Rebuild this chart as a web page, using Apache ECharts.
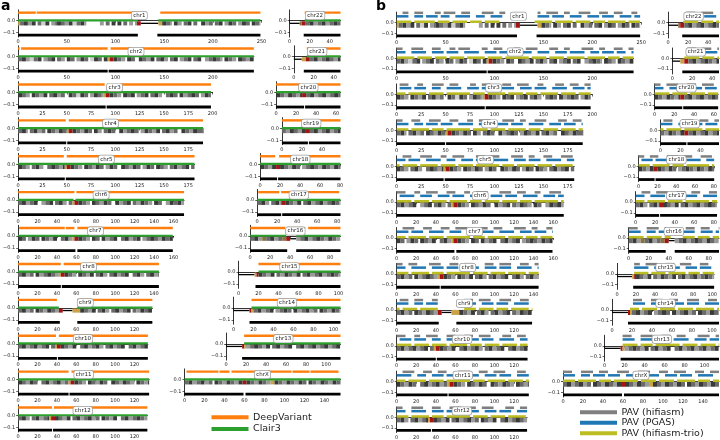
<!DOCTYPE html>
<html>
<head>
<meta charset="utf-8">
<script src="https://cdn.jsdelivr.net/npm/echarts@6/dist/echarts.min.js"></script>
<style>
  html, body { margin: 0; padding: 0; background: #fff; }
  #chart { width: 720px; height: 440px; }
</style>
</head>
<body>
<div id="chart"></div>
<script>
// chromosome names, lengths (Mb), axis end and tick step
const chromNames = ['chr1','chr2','chr3','chr4','chr5','chr6','chr7','chr8','chr9','chr10','chr11','chr12',
  'chr13','chr14','chr15','chr16','chr17','chr18','chr19','chr20','chr21','chr22','chrX'];
const chromLength = [248.9,242.2,198.3,190.2,181.5,170.8,159.3,145.1,138.4,133.8,135.1,133.3,
  114.4,107.0,102.0,90.3,83.3,80.4,58.6,64.4,46.7,50.8,156.0];
const axisEnd = [250,242.2,200,190.2,181.5,170.8,160,145.1,138.4,133.8,135.1,133.3,
  114.4,107.0,102.0,90.3,83.3,80.4,58.6,64.4,46.7,50.8,156.0];
const tickStep = [50,50,25,25,25,20,20,20,20,20,20,20,20,20,20,20,20,20,20,20,20,20,20];
const yTicks = [0, -0.1];

const leftColumn = ['chr1','chr2','chr3','chr4','chr5','chr6','chr7','chr8','chr9','chr10','chr11','chr12'];
const rightColumn = ['chr22','chr21','chr20','chr19','chr18','chr17','chr16','chr15','chr14','chr13','chrX'];

// ideogram, one char per 2 Mb: . white, a-d greys, r centromere, y/o heterochromatin, - unassembled
const BAND_BIN = 2;
const ideogram = [
  'yccddbbdd. ccaadd.bbc ddccbbddaa ccddb..... ..bb.cc.dd .dd.cc.bb. brr------- --yyddccb. ddbb.ccdd. cc..ddbbcc .ccdd.bbdd cc.bbddcc. ddccb',
  'ccddbbaacc dd.bbccdd. ccbb.ddcc. bbddcc.aad dcc.ddyrrd dccbb.ddcc ..ddccbbdd .ccddbb.cc dd.bbccdd. ccdd..bbcc ddccb.ddcc bb.ddccbbd d',
  'ddccbb.ddc cbbdd.ccdd bbcc..ddcc aaddcc.bbd dccbyrrddc cbb.ddccdd .bbccdd.cc ddbb..ccdd cc.ddbbccd dcc.bbddcc',
  'ccddb.ccdd bbcc.ddccb bddccyrrdd ccbbddcc.d dbb.ccddcc ..ddbbccdd cc.bbddccb bdd.ccddbb cc..ddccbb ddcccd',
  'ddccbb.ccd dbb..ccddc cbbdyrrddc cbb.ddccbb ddcc.bbddc c..ddccbbd dcc.bbddcc .ddccbb.cc ddbbccdd.c c',
  'ccddbbccdd ..bbccdd.c cddbb.ccyr rddccbb.dd ccbbddcc.. ddbbccdd.c cbbddccbb. ddcc..bbdd ccddbb',
  'ddcc.bbddc c.ddccbbdd ..ccddbbyr rddccbb.dd cc.ddbbccd d..ccddbbc cdd.bbccdd ccbbddccdd',
  'ccddbbcc.d dbbccddccb byrrddccbb .ddccbbdd. ccddbb.ccd dbbccdd..c cddbb.ccdd bbc',
  'ccddbbcc.d dccbbddccb brr-----yy yyddccbbdd .ccddbb.cc ddbbccdd.c cbbddccdd.',
  'ccddbbccdd bbccdd.ccy rrddccbbdd ..ccddbbcc ddbb.ccddb bccdd..ccd dbbccdd',
  'ddccbbddcc ..ccddbbcc ddbbccyrrd dccbb.ddcc bbddcc..dd ccbbddccbb .ddccbbd',
  'ccddbb.ccd dbbccdyrrd dccbbdd.cc ddbbccddbb cc.ddccbbd d..ccddbbc cddccbb',
  '--------ry bbccddccbb dd.ccddbbc cdd..ccddb bccddbbccd dbbccdd.',
  '--------ry ccddbbccdd .bbccddcc. ddbbccddbb cc.ddccbbd dccb',
  '--------yr ddccbbdd.c cbbddccbbd d.ccddbbcc ddbbccddcc b',
  'ccddbboocc ddbbccoorr ---bbccddb bccddccbbd dccbb',
  'ccddbb.ccd dbrrddccbb dd.ccddbbc cddbbccddc cb',
  'ddccbbddrr ddccbbddcc .bbccddccb bddccbbddc c',
  'ccbbddccbb ddrrccddbb ccddbbccdd',
  'ddccbbddcc bbdrrccddb bccddbbccd dcc',
  '----yyrrcc ddbbccddcc bbdd',
  '-----orrcc ddbbccddbb ccddcc',
  'ccddbbccdd bbcc.ddccb bddccbbddr rddccbbddc cbbyyddccb bddccbbddc c.ddccbbdd ccbbddcc'
];

// reference contigs (bottom black bar), Mb
const assemblyBar = [
  [[0,123],[143,248.9]], [[0,92],[93,242.2]], [[0,90],[91,198.3]], [[0,49.5],[50.5,190.2]],
  [[0,48],[49,181.5]], [[0,170.8]], [[0,59],[61,159.3]], [[0,44],[45,145.1]],
  [[0,43],[61,138.4]], [[0,40],[41,133.8]], [[0,52],[53,135.1]], [[0,35],[36,133.3]],
  [[16,114.4]], [[16,107]], [[17,102]], [[0,37],[46,90.3]], [[0,24],[25,83.3]], [[0,17],[18,80.4]],
  [[0,26],[27,58.6]], [[0,28],[29,64.4]], [[10,46.7]], [[14,50.8]], [[0,59],[61,156]]
];

// panel a: callable regions, Mb
const deepVariant = [
  [[0,18],[19,124],[146,248.9]], [[0,1.5],[3,92],[95,242.2]], [[0,89],[92,198.3]], [[0,49],[52,190.2]],
  [[0,47],[50,181.5]], [[0,58],[60,170.8]], [[1,48],[49,58],[61,159.3]], [[0,44],[47,145.1]],
  [[0,40],[61,138.4]], [[0,39],[42,133.8]], [[0,52],[55,135.1]], [[0,35],[37,133.3]],
  [[18,114.4]], [[18,107]], [[20,102]], [[0,35],[37,55],[58,90.3]], [[1,22],[24,82]], [[0,15],[19,80.4]],
  [[0,24],[28,58.6]], [[0,28],[30,64.4]], [[13,46.7]], [[15,50.8]],
  [[2,34],[35,45],[47,107],[108,125],[126,154]]
];
const clair3 = [
  [[0,123],[144,248.9]], [[0,242.2]], [[0,198.3]], [[0,190.2]], [[0,181.5]], [[0,57],[59,170.8]],
  [[0,159.3]], [[0,145.1]], [[0,42],[61,138.4]], [[0,133.8]], [[0,135.1]], [[0,133.3]],
  [[18,114.4]], [[18,107]], [[20,102]], [[0,36],[46,90.3]], [[0,83.3]], [[0,80.4]],
  [[0,58.6]], [[0,64.4]], [[13,46.7]], [[15,50.8]], [[0,156]]
];

// panel b: PAV call sets, one char per 3 Mb (1 = covered)
const PAV_BIN = 3;
const pavHifiasm = [
  '0011001110 0001101111 0011100001 1110011000 0000000010 0111100110 0011110001 1100111000 110',
  '1100011110 0011100011 0111100001 1001110000 1100111100 0011100110 0001111001 1000111001 1',
  '0111000110 0011110011 1000011001 1100001110 0111100011 0000111001 1100111',
  '1100011100 0111100011 1000110011 1100001111 0011000111 1000011100 1110',
  '0011100011 1100011001 1110000111 0011100001 1110011000 1110001111 0',
  '1110001100 1111000111 0001100111 1000011110 0111000110 0011110',
  '0011110001 1100011100 1111000011 1001110000 1111001100 0111',
  '1100111000 0111100011 1001110000 1110011110 001110011',
  '0111001110 0011000000 0001110011 1100011110 0011100',
  '1110001100 1111000111 0001110011 1100001110 01110',
  '0011110001 1100111000 0111100011 1001111000 011100',
  '1100011110 0011100011 1100011001 1110000111 00111',
  '0000001110 0011110001 1100111000 011110011',
  '0000000111 0001111001 1100011110 001110',
  '0000001100 1111000111 0011110001 1100',
  '1110001111 0011000001 1100111000 1',
  '0011100111 1000111001 11000111',
  '1100111000 1111001110 0011110',
  '0111000111 1001110011',
  '1100111100 0111001111 00',
  '0000011100 111001',
  '0000001110 0111100',
  '1110001111 0011100011 1100011110 0011100111 1000111001 11'
];
const pavPgas = [
  '1111001110 1111011100 1111100111 0011110000 0000000011 1101111001 1110011110 1111001111 011',
  '1110011111 0011110111 1001111100 1111011110 0111110011 1100111101 1111001110 1111011100 1',
  '0111101111 0011100111 1100111101 1110011111 0011110111 1001111100 1111011',
  '1111001110 1111011110 0111110011 1100111101 1110011111 0011110111 1001',
  '1110111100 1111100111 0011110111 1001111100 1111011110 0111110011 1',
  '0111110011 1100111101 1110011111 0011110111 1001111100 1111011',
  '1111011110 0111110011 1100111101 1110011111 0011110111 1001',
  '1110011111 0011110111 1001111100 1111011110 011111001',
  '1111001110 1111000000 0001111001 1110111100 1111100',
  '0111101111 0011100111 1100111101 1110011111 00111',
  '1111100111 0011110111 1001111100 1111011110 011111',
  '1110011111 0011110111 1001111100 1111011110 01111',
  '0000001111 0011110111 1001111100 111101111',
  '0000000111 1001111100 1111011110 011111',
  '0000001111 1001111011 1100111101 1110',
  '1111001110 1111000011 1100111101 1',
  '1110011111 0011110111 10011111',
  '0111101111 0011100111 1100111',
  '1111001110 1111011110',
  '1110011111 0011110111 10',
  '0000011110 011110',
  '0000001111 0011110',
  '1111001110 1111011110 0111110011 1100111101 1110011111 00'
];
const pavTrio = [
  '1111101111 1110111101 1111011110 1111100000 0000000111 1110111111 0111110111 1011111101 111',
  '1111110111 1101111011 1110111111 0111110111 1111101111 1011111011 1111011111 1011110111 1',
  '1110111111 0111110111 1111101111 0111111011 1110111101 1111101111 1011111',
  '1111011111 1011110111 1111101111 1011111011 1111011110 1111101111 1011',
  '1011111011 1111011111 0111110111 1111101111 0111111011 1110111111 0',
  '1111101111 1011111011 1111011110 1111101111 1011110111 1111101',
  '1110111111 0111110111 1111101111 0111111011 1110111101 1111',
  '1111011111 1011110111 1111101111 1011111011 111101111',
  '1011111011 1111000000 0001111011 1110111101 1111101',
  '1111101111 1011111011 1111011110 1111101111 10111',
  '1110111111 0111110111 1111101111 0111111011 111011',
  '1111011111 1011110111 1111101111 1011111011 11110',
  '0000001111 1011110111 1111101111 101111101',
  '0000001110 1111101111 1011111011 111101',
  '0000001111 1011111011 1111011110 1111',
  '1111101111 1011000011 1101111011 1',
  '1110111111 0111110111 11111011',
  '1111011111 1011110111 1111101',
  '1011111011 1111011111',
  '1111101111 1011111011 11',
  '0000111110 111101',
  '0000011111 0111101',
  '1111011111 1011110111 1111101111 1011111011 1111011110 11'
];

// ---------- drawing ----------
const palette = ['#cfcfcf','#9b9b9b','#6a6a6a','#3a3a3a','#a31515','#c9a24a','#8b7340','#000000',
  '#ff7f0e','#2ca02c','#7f7f7f','#1f77b4','#bcbd22'];
const bandColor = { a: 0, b: 1, c: 2, d: 3, r: 4, y: 5, o: 6 };
const FONT = 'DejaVu Sans';

const panels = [
  { leftX: 17, rightX: 340.5, leftScale: 0.978, rightScale: 1.0, zeroY: 20.7, pitch: 35.9, px: 120,
    yMax: 0.09, yMin: -0.136, band: { y: -0.022, h: 4.2 }, bar: { y: -0.121, h: 2.8 }, labelY: 0.043,
    tracks: [ { src: deepVariant, y: 0.067, h: 2.4, c: 8 }, { src: clair3, y: 0.003, h: 2.2, c: 9 } ] },
  { leftX: 396.7, rightX: 719, leftScale: 0.978, rightScale: 1.0, zeroY: 22.7, pitch: 35.9, px: 106,
    yMax: 0.1, yMin: -0.145, band: { y: -0.024, h: 5 }, bar: { y: -0.125, h: 2.8 }, labelY: 0.062,
    pav: [ { src: pavHifiasm, y: 0.093, h: 2.5, c: 10 }, { src: pavPgas, y: 0.06, h: 2.5, c: 11 },
           { src: pavTrio, y: 0.009, h: 2.5, c: 12 } ] }
];

const clean = s => s.replace(/\s+/g, '');

function runs(str, bin, len, keep) {
  const s = clean(str), out = [];
  let i = 0;
  while (i < s.length) {
    let j = i;
    while (j < s.length && s[j] === s[i]) j++;
    const x0 = i * bin, x1 = Math.min(j * bin, len);
    if (x0 < len && keep(s[i])) out.push([x0, x1, s[i]]);
    i = j;
  }
  return out;
}

const grids = [], xAxes = [], yAxes = [], series = [];

panels.forEach(p => {
  chromNames.forEach((name, ci) => {
    const gi = grids.length;
    const len = chromLength[ci], ax = axisEnd[ci];
    let row = leftColumn.indexOf(name), left, width;
    if (row >= 0) { width = ax * p.leftScale; left = p.leftX; }
    else { row = rightColumn.indexOf(name); width = ax * p.rightScale; left = p.rightX - width; }
    const zero = p.zeroY + row * p.pitch;
    grids.push({ left: left, top: zero - p.yMax * p.px, width: width, height: (p.yMax - p.yMin) * p.px });

    const ticks = [];
    for (let t = 0; t <= ax + 1e-6; t += tickStep[ci]) ticks.push(t);
    xAxes.push({
      type: 'value', gridIndex: gi, min: 0, max: ax,
      axisLine: { lineStyle: { color: '#000', width: 0.8 } },
      axisTick: { customValues: ticks, length: 2, lineStyle: { color: '#000', width: 0.6 } },
      axisLabel: { customValues: ticks, fontSize: 5, margin: 2.5, color: '#222', fontFamily: FONT },
      splitLine: { show: false }
    });
    yAxes.push({
      type: 'value', gridIndex: gi, min: p.yMin, max: p.yMax,
      axisLine: { show: true, lineStyle: { color: '#000', width: 0.8 } },
      axisTick: { customValues: yTicks, length: 2, lineStyle: { color: '#000', width: 0.6 } },
      axisLabel: { customValues: yTicks, fontSize: 5, margin: 3, color: '#222', fontFamily: FONT,
        formatter: v => (Math.abs(v) < 1e-9 ? '0.0' : '\u22120.1') },
      splitLine: { show: false }
    });

    const items = [];
    runs(ideogram[ci], BAND_BIN, len, ch => ch !== '.').forEach(r => {
      if (r[2] === '-') items.push([r[0], r[1], p.band.y, 1.3, 7]);
      else items.push([r[0], r[1], p.band.y, p.band.h, bandColor[r[2]]]);
    });
    assemblyBar[ci].forEach(s => items.push([s[0], s[1], p.bar.y, p.bar.h, 7]));
    (p.tracks || []).forEach(t => t.src[ci].forEach(s => items.push([s[0], s[1], t.y, t.h, t.c])));
    (p.pav || []).forEach(t => runs(t.src[ci], PAV_BIN, len, ch => ch === '1')
      .forEach(r => items.push([r[0], r[1], t.y, t.h, t.c])));

    series.push({
      type: 'custom', xAxisIndex: gi, yAxisIndex: gi, silent: true, z: 2,
      encode: { x: [0, 1], y: 2 },
      data: items,
      renderItem: function (params, api) {
        const yc = api.value(2), h = api.value(3);
        const p0 = api.coord([api.value(0), yc]), p1 = api.coord([api.value(1), yc]);
        return { type: 'rect', shape: { x: p0[0], y: p0[1] - h / 2, width: Math.max(p1[0] - p0[0], 0.7), height: h },
          style: { fill: palette[api.value(4)] } };
      }
    });
    series.push({
      type: 'custom', xAxisIndex: gi, yAxisIndex: gi, silent: true, z: 5,
      data: [[len / 2, p.labelY]],
      renderItem: function (params, api) {
        const c = api.coord([api.value(0), api.value(1)]);
        return { type: 'text', x: c[0], y: c[1], style: { text: name, fontSize: 5.5, fontFamily: FONT, fill: '#222',
          align: 'center', verticalAlign: 'middle', backgroundColor: '#fff', borderColor: '#9a9a9a',
          borderWidth: 0.7, borderRadius: 2, padding: [1, 1.5, 0.5, 1.5] } };
      }
    });
  });
});

function legendEntry(x, y, color, text) {
  return [
    { type: 'line', shape: { x1: x, y1: y, x2: x + 37, y2: y }, style: { stroke: color, lineWidth: 4 } },
    { type: 'text', x: x + 41.5, y: y, style: { text: text, fontSize: 9.5, fontFamily: FONT, fill: '#222', verticalAlign: 'middle' } }
  ];
}

const option = {
  animation: false,
  backgroundColor: '#fff',
  grid: grids, xAxis: xAxes, yAxis: yAxes, series: series,
  graphic: [
    { type: 'text', left: 1, top: -1, style: { text: 'a', fontSize: 14, fontWeight: 'bold', fontFamily: FONT, fill: '#000' } },
    { type: 'text', left: 376, top: -1, style: { text: 'b', fontSize: 14, fontWeight: 'bold', fontFamily: FONT, fill: '#000' } },
    ...legendEntry(211.5, 417.3, '#ff7f0e', 'DeepVariant'),
    ...legendEntry(211.5, 429, '#2ca02c', 'Clair3'),
    ...legendEntry(580, 412.3, '#7f7f7f', 'PAV (hifiasm)'),
    ...legendEntry(580, 422.8, '#1f77b4', 'PAV (PGAS)'),
    ...legendEntry(580, 433.3, '#bcbd22', 'PAV (hifiasm-trio)')
  ]
};

const chart = echarts.init(document.getElementById('chart'));
chart.setOption(option);
</script>
</body>
</html>
